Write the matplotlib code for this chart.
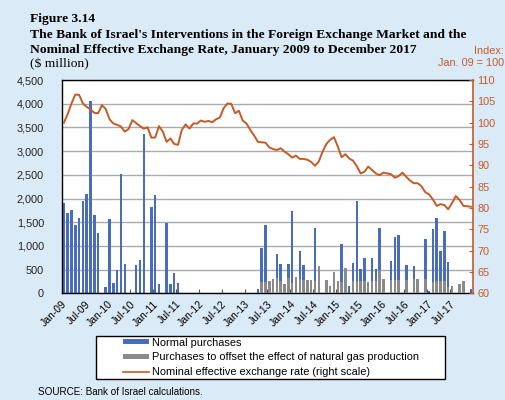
import numpy as np
import matplotlib
matplotlib.use("Agg")
import matplotlib.pyplot as plt
from matplotlib.patches import Patch, Rectangle
from matplotlib.lines import Line2D
from matplotlib.ticker import FuncFormatter

# Monthly data, Jan 2009 - Dec 2017 ($ million)
normal = [
    1900, 1700, 1750, 1440, 1595, 1940, 2095, 4063, 1645, 1272, 0, 133,   # 2009
    1561, 211, 492, 2510, 618, 0, 0, 590, 696, 3367, 0, 1814,             # 2010
    2074, 196, 0, 1490, 196, 428, 224, 0, 0, 0, 0, 0,                     # 2011
    0, 0, 0, 0, 0, 0, 0, 0, 0, 0, 0, 0,                                   # 2012
    0, 0, 0, 90, 949, 1441, 0, 0, 836, 618, 0, 618,                       # 2013
    1730, 0, 892, 590, 0, 0, 1385, 0, 0, 0, 0, 0,                         # 2014
    0, 1040, 0, 155, 646, 1948, 506, 752, 0, 752, 506, 1371,              # 2015
    0, 0, 688, 1188, 1223, 0, 590, 0, 570, 0, 0, 1139,                    # 2016
    50, 1357, 1582, 892, 1321, 660, 0, 0, 0, 0, 0, 90,                    # 2017
]
gas = [
    0, 0, 0, 0, 0, 0, 0, 0, 0, 0, 0, 0,
    0, 0, 0, 0, 0, 0, 0, 0, 0, 0, 0, 0,
    0, 0, 0, 0, 0, 0, 0, 0, 0, 0, 0, 0,
    0, 0, 0, 0, 0, 0, 0, 0, 0, 0, 0, 0,
    0, 0, 0, 0, 232, 240, 266, 295, 316, 270, 196, 330,
    224, 344, 295, 290, 290, 290, 270, 583, 0, 280, 150, 450,
    270, 245, 527, 0, 250, 250, 250, 250, 245, 250, 250, 500,
    295, 0, 290, 290, 290, 0, 280, 0, 300, 300, 0, 300,
    0, 246, 250, 250, 250, 140, 155, 0, 190, 260, 0, 0,
]
neer = [
    100.0, 102.0, 104.5, 106.6, 106.5, 104.5, 103.7, 103.1, 102.3, 102.2, 104.1, 103.2,
    100.8, 99.8, 99.5, 99.1, 97.9, 98.5, 100.6, 99.9, 99.2, 98.6, 98.9, 96.5,
    96.5, 99.2, 97.9, 95.5, 96.3, 95.0, 94.8, 98.3, 99.6, 98.6, 99.8, 99.8,
    100.5, 100.2, 100.4, 100.1, 100.8, 101.2, 103.4, 104.5, 104.4, 102.2, 102.8, 100.5,
    99.8, 98.3, 97.0, 95.5, 95.4, 95.3, 94.2, 93.8, 93.6, 94.0, 93.2, 92.6,
    91.8, 92.3, 91.5, 91.5, 91.3, 90.8, 89.9, 90.9, 93.2, 95.0, 96.0, 96.6,
    94.4, 91.9, 92.6, 91.6, 91.1, 89.8, 88.1, 88.5, 89.7, 88.9, 88.1, 87.7,
    88.3, 88.1, 87.9, 87.1, 87.5, 88.3, 87.3, 86.4, 85.8, 85.8, 85.1, 83.7,
    83.2, 82.0, 80.5, 80.9, 80.7, 79.7, 81.1, 82.8, 81.9, 80.5, 80.4, 80.3,
]
tick_labels = ['Jan-09', 'Jul-09', 'Jan-10', 'Jul-10', 'Jan-11', 'Jul-11',
               'Jan-12', 'Jul-12', 'Jan-13', 'Jul-13', 'Jan-14', 'Jul-14',
               'Jan-15', 'Jul-15', 'Jan-16', 'Jul-16', 'Jan-17', 'Jul-17']

BLUE = '#4a6cbd'
GREY = '#8a8a8a'
ORANGE = '#c55a27'
BG = '#dbeaf7'
SANS = 'Liberation Sans'
SERIF = 'Liberation Serif'

plt.rcParams['font.family'] = SANS

fig = plt.figure(figsize=(5.06, 4.0), dpi=100, facecolor=BG)
ax = fig.add_axes([0.1225, 0.2667, 0.812, 0.5333])
ax.set_facecolor('white')

x = np.arange(len(normal))
ax.bar(x, normal, width=0.65, color=BLUE, zorder=2)
ax.bar(x, gas, width=0.65, color=GREY, zorder=3)

ax.set_xlim(-0.5, len(normal) - 0.5)
ax.set_ylim(0, 4500)
ax.set_yticks(np.arange(0, 4501, 500))
ax.yaxis.set_major_formatter(FuncFormatter(lambda v, p: f'{int(v):,}'))
ax.grid(axis='y', color='#ababab', linewidth=1.0, zorder=0)
ax.tick_params(axis='y', length=0, pad=13, labelsize=7.8, colors='#222222')

ax.set_xticks(np.arange(-0.5, 102, 6))
ax.set_xticklabels(tick_labels, rotation=45, ha='right', rotation_mode='anchor',
                   fontsize=7.5)
ax.tick_params(axis='x', direction='in', length=3, color='#555555', pad=4)

for s in ['left', 'bottom', 'top']:
    ax.spines[s].set_color('black')
    ax.spines[s].set_linewidth(1.0)
ax.spines['right'].set_visible(False)

ax2 = ax.twinx()
ax2.plot(x, neer, color=ORANGE, linewidth=1.4, zorder=4)
ax2.set_ylim(60, 110)
ax2.set_yticks(np.arange(60, 111, 5))
ax2.tick_params(axis='y', direction='in', length=3, color=ORANGE, labelcolor=ORANGE,
                labelsize=7.8, pad=3)
ax2.spines['right'].set_color(ORANGE)
ax2.spines['right'].set_linewidth(1.2)
for s in ['left', 'bottom', 'top']:
    ax2.spines[s].set_visible(False)

# titles
title_kw = dict(fontfamily=SERIF, fontweight='bold', fontsize=9.7, va='baseline')
fig.text(0.059, 0.944, 'Figure 3.14', **title_kw)
fig.text(0.059, 0.906, "The Bank of Israel's Interventions in the Foreign Exchange Market and the",
         **title_kw)
fig.text(0.059, 0.867, 'Nominal Effective Exchange Rate, January 2009 to December 2017',
         **title_kw)
fig.text(0.059, 0.832, '($ million)', fontfamily=SERIF, fontsize=9.7, va='baseline')
fig.text(0.996, 0.866, 'Index:', color=ORANGE, fontsize=7.8, ha='right', va='baseline')
fig.text(0.996, 0.836, 'Jan. 09 = 100', color=ORANGE, fontsize=7.8, ha='right', va='baseline')

# legend: framed box, entries placed inside
box_l, box_b, box_w, box_h = 96 / 506, 1 - 379 / 400, 349 / 506, 43 / 400
fig.patches.append(Rectangle((box_l, box_b), box_w, box_h, transform=fig.transFigure,
                             facecolor='white', edgecolor='black', linewidth=1.0))
handles = [Patch(facecolor=BLUE), Patch(facecolor=GREY),
           Line2D([0], [0], color=ORANGE, linewidth=1.2)]
labels = ['Normal purchases', 'Purchases to offset the effect of natural gas production',
          'Nominal effective exchange rate (right scale)']
fig.legend(handles, labels, loc='center left', bbox_to_anchor=(123 / 506, box_b + box_h / 2),
           frameon=False, fontsize=7.9, handlelength=2.4, handleheight=0.4,
           handletextpad=0.2, labelspacing=0.45, borderpad=0, borderaxespad=0)

fig.text(0.075, 0.013, 'SOURCE: Bank of Israel calculations.', fontsize=7.1, va='baseline')

fig.savefig('out.png', dpi=100, facecolor=BG)
